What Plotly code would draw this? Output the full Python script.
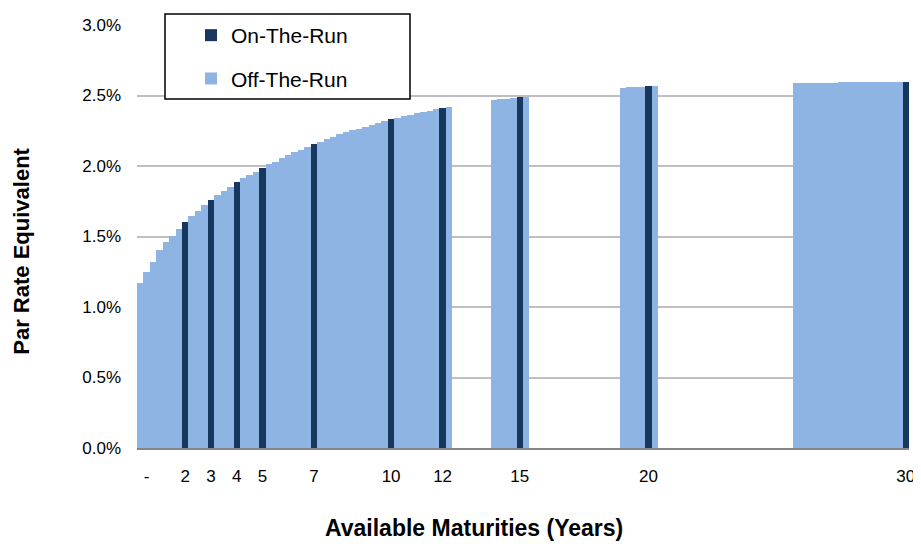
import plotly.graph_objects as go

# ---- data (percent) ----
off_maturities = [0.25, 0.5, 0.75, 1.0, 1.25, 1.5, 1.75,
                  2.25, 2.5, 2.75,
                  3.25, 3.5, 3.75,
                  4.25, 4.5, 4.75,
                  5.25, 5.5, 5.75, 6.0, 6.25, 6.5, 6.75,
                  7.25, 7.5, 7.75, 8.0, 8.25, 8.5, 8.75, 9.0, 9.25, 9.5, 9.75,
                  10.25, 10.5, 10.75, 11.0, 11.25, 11.5, 11.75,
                  12.25,
                  14.0, 14.25, 14.5, 14.75, 15.25,
                  19.0, 19.25, 19.5, 19.75, 20.25,
                  25.75, 26.0, 26.25, 26.5, 26.75, 27.0, 27.25, 27.5, 27.75,
                  28.0, 28.25, 28.5, 28.75, 29.0, 29.25, 29.5, 29.75]
off_values = [1.170, 1.248, 1.319, 1.406, 1.458, 1.505, 1.552,
              1.642, 1.682, 1.722,
              1.793, 1.824, 1.854,
              1.914, 1.937, 1.960,
              2.013, 2.031, 2.055, 2.079, 2.098, 2.116, 2.137,
              2.173, 2.190, 2.208, 2.225, 2.239, 2.252, 2.265, 2.278, 2.291, 2.304, 2.318,
              2.342, 2.352, 2.362, 2.373, 2.383, 2.393, 2.404,
              2.421,
              2.468, 2.472, 2.477, 2.482, 2.490,
              2.555, 2.557, 2.560, 2.562, 2.566,
              2.588, 2.588, 2.589, 2.589, 2.590, 2.592, 2.592, 2.593, 2.593,
              2.593, 2.594, 2.594, 2.594, 2.595, 2.595, 2.595, 2.596]

on_maturities = [2, 3, 4, 5, 7, 10, 12, 15, 20, 30]
on_values = [1.604, 1.760, 1.887, 1.989, 2.157, 2.331, 2.414, 2.487, 2.565, 2.596]

x_tick_vals = [0.5, 2, 3, 4, 5, 7, 10, 12, 15, 20, 30]
x_tick_text = ["-", "2", "3", "4", "5", "7", "10", "12", "15", "20", "30"]
y_tick_vals = [0, 0.5, 1.0, 1.5, 2.0, 2.5, 3.0]
y_tick_text = ["0.0%", "0.5%", "1.0%", "1.5%", "2.0%", "2.5%", "3.0%"]

DARK = "#17375E"
LIGHT = "#8EB4E3"
FONT = "Liberation Sans, Arial, sans-serif"

# page has an 8px body margin; plot area target: x 137..909, y 25..448.5
OFF = 8
PL, PR, PT, PB = 137, 909, 25, 448.5
W, H = 921 - OFF, 544 - OFF
PW, PH = PR - PL, PB - PT


def px(x):
    return (x - PL) / PW


def py(y):
    return (PB - y) / PH


fig = go.Figure()
fig.add_trace(go.Bar(x=on_maturities, y=on_values, width=0.25, name="On-The-Run",
                     marker=dict(color=DARK, line=dict(width=0)),
                     legendgroup="a"))
fig.add_trace(go.Bar(x=off_maturities, y=off_values, width=0.25, name="Off-The-Run",
                     marker=dict(color=LIGHT, line=dict(width=0)),
                     legendgroup="b"))

fig.update_layout(
    width=W, height=H,
    margin=dict(l=PL - OFF, r=921 - PR, t=PT - OFF, b=544 - PB, autoexpand=False),
    paper_bgcolor="white", plot_bgcolor="white",
    barmode="overlay", bargap=0,
    font=dict(family=FONT, size=17, color="#000000"),
    showlegend=True,
    legend=dict(x=px(191), y=py(15), xanchor="left", yanchor="top",
                bgcolor="rgba(0,0,0,0)", borderwidth=0,
                traceorder="grouped", tracegroupgap=13,
                font=dict(family=FONT, size=21, color="#000000")),
    xaxis=dict(range=[0.125, 30.125], tickmode="array", tickvals=x_tick_vals,
               ticktext=x_tick_text, showgrid=False, zeroline=False,
               showline=True, linecolor="#868686", linewidth=1.5,
               ticks="", ticklabelstandoff=12,
               tickfont=dict(family=FONT, size=17, color="#000000")),
    yaxis=dict(range=[0, 3.0], tickmode="array", tickvals=y_tick_vals,
               ticktext=y_tick_text, showgrid=True,
               gridcolor="#BFBFBF", gridwidth=1.5, zeroline=False,
               showline=False, ticks="", ticklabelstandoff=15,
               tickfont=dict(family=FONT, size=17, color="#000000")),
    shapes=[dict(type="rect", xref="paper", yref="paper",
                 x0=px(165), x1=px(410), y0=py(99), y1=py(14),
                 line=dict(color="#000000", width=1.5),
                 fillcolor="white", layer="above")],
    annotations=[
        dict(text="<b>Par Rate Equivalent</b>", xref="paper", yref="paper",
             x=px(22), y=py(252), textangle=-90, showarrow=False,
             xanchor="center", yanchor="middle",
             font=dict(family=FONT, size=22, color="#000000")),
        dict(text="<b>Available Maturities (Years)</b>", xref="paper", yref="paper",
             x=px(474), y=py(529), showarrow=False,
             xanchor="center", yanchor="middle",
             font=dict(family=FONT, size=23, color="#000000")),
    ],
)

fig.write_html("out.html")
